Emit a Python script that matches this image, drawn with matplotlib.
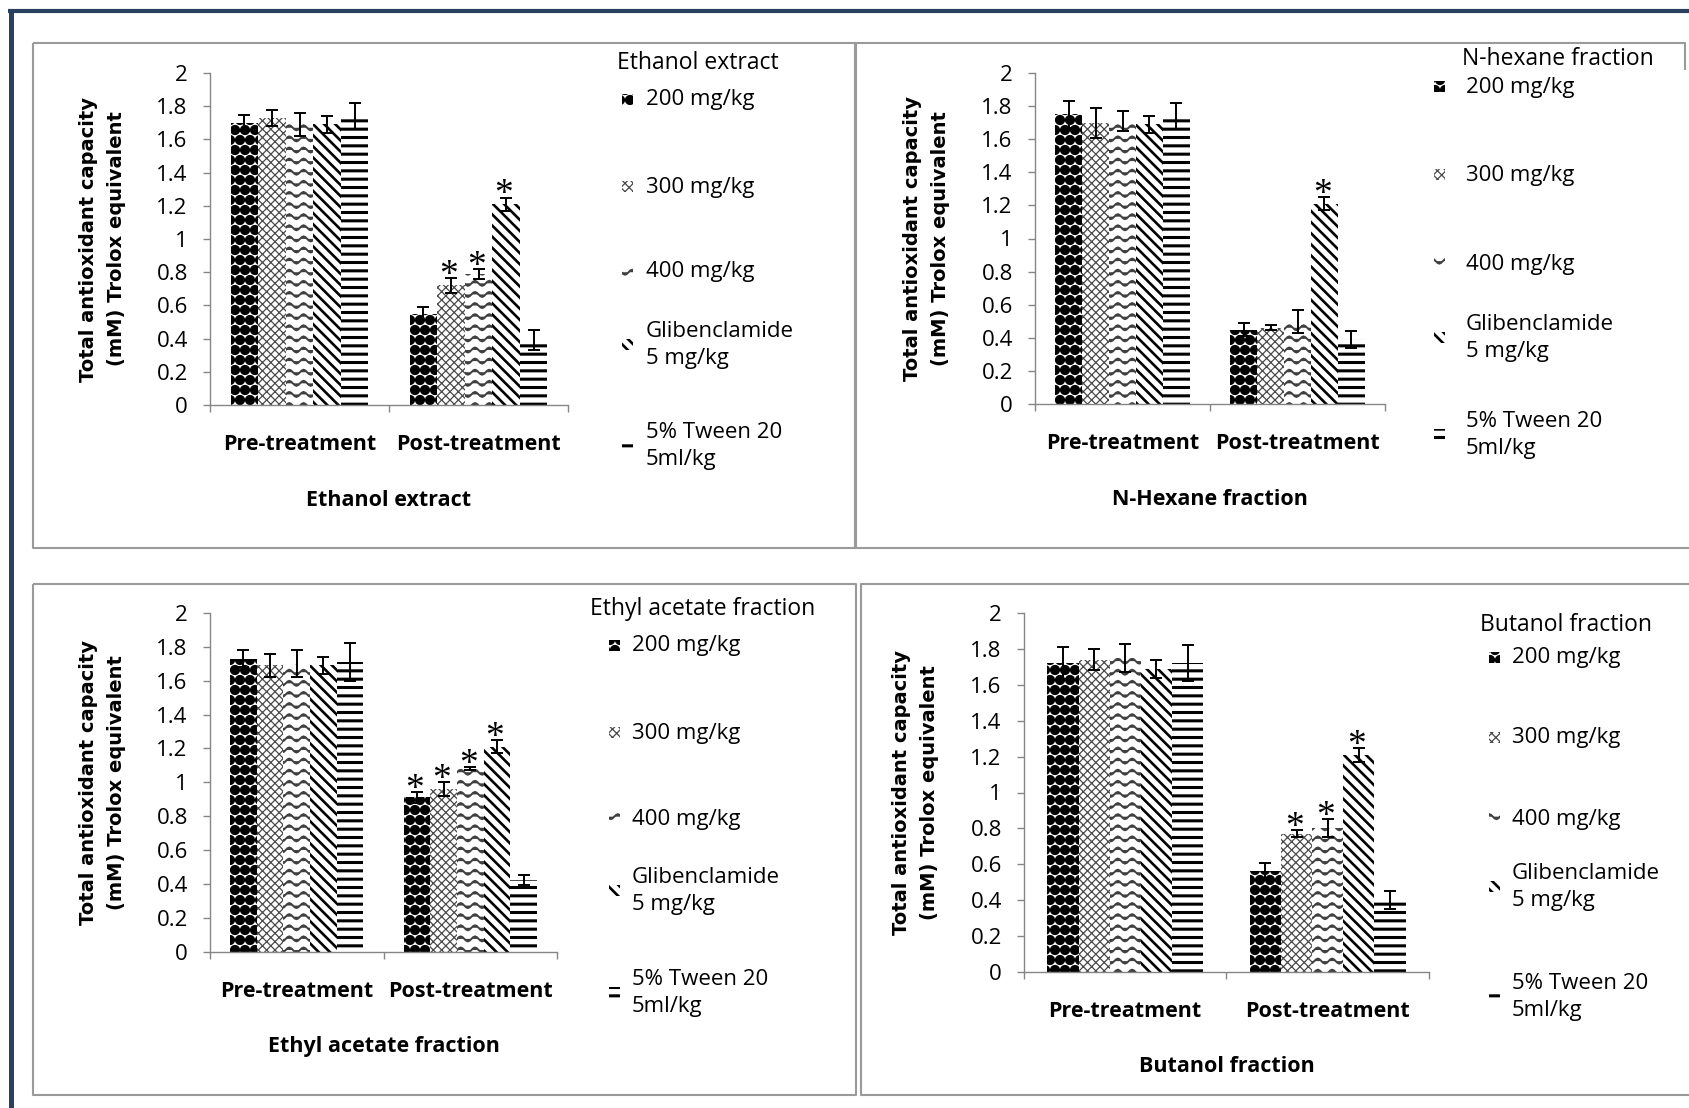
"""Total antioxidant capacity of the extract and fractions, pre/post treatment."""

import warnings

import matplotlib
matplotlib.use("Agg")
import matplotlib.pyplot as plt
import matplotlib.hatch as mhatch
import numpy as np
from matplotlib.lines import Line2D
from matplotlib.patches import Rectangle
from matplotlib.path import Path
from matplotlib.ticker import FuncFormatter

warnings.filterwarnings("ignore", message=".*hatch must consist.*")

# ---------------------------------------------------------------------------
# Data
# ---------------------------------------------------------------------------

phases = ["Pre-treatment", "Post-treatment"]
groups = ["200 mg/kg", "300 mg/kg", "400 mg/kg",
          "Glibenclamide\n5 mg/kg", "5% Tween 20\n5ml/kg"]

ethanol_mean = [[1.70, 1.73, 1.69, 1.69, 1.74], [0.55, 0.72, 0.79, 1.21, 0.39]]
ethanol_err = [[0.05, 0.05, 0.07, 0.05, 0.08], [0.04, 0.045, 0.03, 0.04, 0.06]]
ethanol_sig = [0, 1, 1, 1, 0]

hexane_mean = [[1.75, 1.70, 1.71, 1.69, 1.74], [0.45, 0.46, 0.50, 1.21, 0.39]]
hexane_err = [[0.08, 0.09, 0.06, 0.05, 0.08], [0.04, 0.015, 0.07, 0.04, 0.05]]
hexane_sig = [0, 0, 0, 1, 0]

ethyl_mean = [[1.73, 1.69, 1.70, 1.69, 1.71], [0.91, 0.96, 1.08, 1.21, 0.42]]
ethyl_err = [[0.05, 0.07, 0.08, 0.05, 0.11], [0.03, 0.04, 0.01, 0.04, 0.03]]
ethyl_sig = [1, 1, 1, 1, 0]

butanol_mean = [[1.72, 1.74, 1.75, 1.69, 1.72], [0.56, 0.77, 0.80, 1.21, 0.40]]
butanol_err = [[0.09, 0.06, 0.08, 0.05, 0.10], [0.05, 0.02, 0.05, 0.04, 0.05]]
butanol_sig = [0, 1, 1, 1, 0]

y_ticks = [0, 0.2, 0.4, 0.6, 0.8, 1, 1.2, 1.4, 1.6, 1.8, 2]

# ---------------------------------------------------------------------------
# Extra fill patterns (dotted checker and waves)
# ---------------------------------------------------------------------------

class BigDots(mhatch.Circles):
    size = 0.44
    filled = True

    def __init__(self, hatch, density):
        # Shapes needs an even row count
        self.num_rows = hatch.count("@") * 10
        super().__init__(hatch, density)


class Waves(mhatch.HatchPatternBase):
    def __init__(self, hatch, density):
        self.num_lines = hatch.count("~") * 9
        self.n_pts = 57
        self.num_vertices = self.num_lines * self.n_pts

    def set_vertices_and_codes(self, vertices, codes):
        xs = np.linspace(0.0, 1.0, self.n_pts)
        for k in range(self.num_lines):
            sl = slice(k * self.n_pts, (k + 1) * self.n_pts)
            vertices[sl, 0] = xs
            vertices[sl, 1] = (k + 0.5) / self.num_lines + 0.025 * np.sin(14 * np.pi * xs)
            codes[sl] = Path.LINETO
            codes[k * self.n_pts] = Path.MOVETO


mhatch._hatch_types.extend([BigDots, Waves])

bar_styles = [
    dict(hatch="@", color="black", lw=1.0),
    dict(hatch="xxxx", color="#4a4a4a", lw=0.9),
    dict(hatch="~", color="#404040", lw=1.4),
    dict(hatch="\\\\\\", color="black", lw=1.9),
    dict(hatch="--", color="black", lw=2.2),
]

plt.rcParams["font.family"] = ["Open Sans", "DejaVu Sans"]

W, H = 1689, 1108
fig = plt.figure(figsize=(W / 100, H / 100), dpi=100)
fig.patch.set_facecolor("white")
AXIS_GREY = "#868686"


def fx(x):
    return x / W


def fy(y):
    return 1 - y / H


def add_axes_px(x0, y0, x1, y1):
    return fig.add_axes([fx(x0), fy(y1), (x1 - x0) / W, (y1 - y0) / H])


def fig_line(xs, ys, color, lw):
    fig.add_artist(Line2D([fx(x) for x in xs], [fy(y) for y in ys],
                          transform=fig.transFigure, color=color, lw=lw,
                          solid_capstyle="butt"))


def draw_panel(box, means, errs, sig, xlabel):
    ax = add_axes_px(*box)
    n = len(groups)
    width = 1 / (n + 1.5)
    x = np.arange(len(phases))

    for i, st in enumerate(bar_styles):
        pos = x + (i - (n - 1) / 2) * width
        vals = [m[i] for m in means]
        with plt.rc_context({"hatch.linewidth": st["lw"]}):
            ax.bar(pos, vals, width, facecolor="white", edgecolor=st["color"],
                   hatch=st["hatch"], linewidth=0, zorder=2)
        ax.errorbar(pos, vals, yerr=[e[i] for e in errs], fmt="none",
                    ecolor="black", elinewidth=1.4, capsize=4.5, capthick=1.4,
                    zorder=3)
        if sig[i]:
            ax.annotate("*", xy=(pos[1], vals[1] + errs[1][i]),
                        xytext=(-1.5, -5), textcoords="offset points",
                        ha="center", va="baseline", fontsize=27,
                        family="Liberation Serif")

    ax.set_xlim(-0.5, 1.5)
    ax.set_ylim(0, 2)
    ax.set_yticks(y_ticks)
    ax.yaxis.set_major_formatter(FuncFormatter(lambda v, _: f"{v:g}"))
    ax.set_xticks(x)
    ax.set_xticklabels(phases, fontweight="bold", fontsize=15.5)
    ax.set_xticks([-0.5, 0.5, 1.5], minor=True)
    ax.tick_params(axis="x", which="major", length=0, pad=21)
    ax.tick_params(axis="x", which="minor", length=5, width=1, color=AXIS_GREY,
                   direction="out")
    ax.tick_params(axis="y", length=5, width=1, color=AXIS_GREY, pad=11,
                   labelsize=16)
    for side in ("top", "right"):
        ax.spines[side].set_visible(False)
    for side in ("left", "bottom"):
        ax.spines[side].set_color(AXIS_GREY)
        ax.spines[side].set_linewidth(1)

    ax.annotate("Total antioxidant capacity\n(mM) Trolox equivalent",
                xy=(0, 0.5), xycoords="axes fraction", xytext=(-108 * 0.72, 0),
                textcoords="offset points", rotation=90, ha="center",
                va="center", fontsize=14, fontweight="bold",
                family="DejaVu Sans", linespacing=1.6)
    ax.annotate(xlabel, xy=(0.5, 0), xycoords="axes fraction",
                xytext=(0, -95 * 0.72), textcoords="offset points",
                ha="center", va="center", fontsize=15.5, fontweight="bold")
    return ax


def draw_key(title, title_xy, sw_x, txt_x, ys):
    fig.text(fx(title_xy[0]), fy(title_xy[1]), title, ha="left", va="center",
             fontsize=16.5)
    for st, label, y in zip(bar_styles, groups, ys):
        with plt.rc_context({"hatch.linewidth": st["lw"]}):
            fig.add_artist(Rectangle((fx(sw_x), fy(y + 5)), 11 / W, 11 / H,
                                     transform=fig.transFigure,
                                     facecolor="white", edgecolor=st["color"],
                                     hatch=st["hatch"], linewidth=0))
        fig.text(fx(txt_x), fy(y), label, ha="left", va="center",
                 fontsize=16, linespacing=1.4)


# Outer frame and panel boxes
BOX_GREY = "#9a9a9a"
fig_line([8, W], [11, 11], "#27415f", 3)
fig_line([10.5, 10.5], [9, H], "#27415f", 3.6)
fig_line([33, 856, 856, 33, 33], [43, 43, 548, 548, 43], BOX_GREY, 1.5)
fig_line([1685, 1685, 855, 855, W], [70, 43, 43, 548, 548], BOX_GREY, 1.5)
fig_line([33, 856, 856, 33, 33], [584, 584, 1095, 1095, 584], BOX_GREY, 1.5)
fig_line([W, 861, 861, W], [584, 584, 1095, 1095], BOX_GREY, 1.5)

draw_panel((210, 73, 568, 405), ethanol_mean, ethanol_err, ethanol_sig,
           "Ethanol extract")
draw_panel((1035, 73, 1385, 404), hexane_mean, hexane_err, hexane_sig,
           "N-Hexane fraction")
draw_panel((210, 613, 557, 951.5), ethyl_mean, ethyl_err, ethyl_sig,
           "Ethyl acetate fraction")
draw_panel((1024, 613, 1429, 972), butanol_mean, butanol_err, butanol_sig,
           "Butanol fraction")

draw_key("Ethanol extract", (617, 63), 622, 646, [100, 187, 271, 345, 446])
draw_key("N-hexane fraction", (1462, 59), 1434, 1466, [87, 175, 264, 338, 435])
draw_key("Ethyl acetate fraction", (590, 609), 609, 632, [646, 733, 819, 891, 993])
draw_key("Butanol fraction", (1480, 625), 1489, 1512, [658, 738, 819, 887, 997])

fig.savefig("out.png", dpi=100, facecolor="white")
